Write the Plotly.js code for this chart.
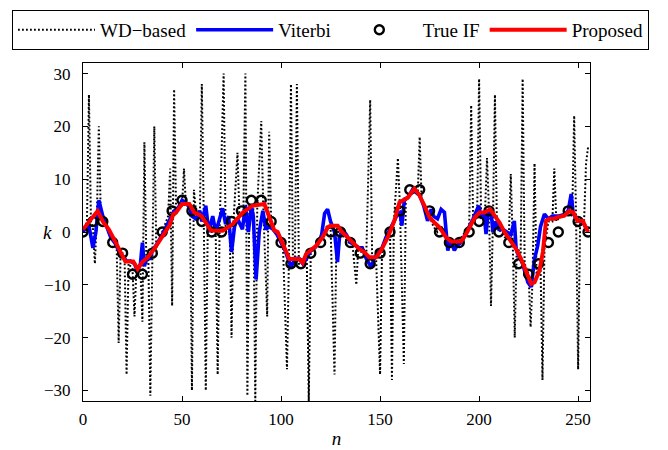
<!DOCTYPE html>
<html>
<head>
<meta charset="utf-8">
<script src="https://cdn.plot.ly/plotly-3.0.1.min.js"></script>
<style>html,body{margin:0;padding:0;background:#fff;}#chart{width:668px;height:450px;}</style>
</head>
<body>
<div id="chart"></div>
<script>
// WD-based estimate (vertices)
const wdN = [0,1,2,3,4,5,6,7,8,9,10,12,14,16,17,18,19,20,21,22,23,25,26,27,29,30,31,32,33,34,35,36,37,39,40,42,43,44,45,46,47,49,50,51,52,54,55,56,57,59,60,61,62,63,65,67,68,69,71,72,74,75,76,78,79,81,82,83,84,86,87,88,90,91,93,94,95,97,99,101,103,104,105,106,107,108,109,111,113,114,115,117,119,121,123,125,127,128,130,132,134,136,138,139,141,143,145,146,148,150,151,153,155,156,157,159,160,162,163,165,167,169,170,171,173,175,177,179,181,183,185,187,189,191,193,195,196,197,199,200,201,203,204,205,206,207,208,209,211,213,215,216,217,218,219,221,222,223,225,226,227,228,229,231,232,233,235,237,238,239,241,243,245,247,248,249,250,251,253,254,255];
const wdK = [0,1,2,26,2,1,-6,3,20,3,2,1,-1,-2,-3,-21,-4,-4,-5,-27,-6,-7,-16,-7,-7,-17,17,-6,-5,-31,-4,20,-3,-1,0,2,3,12,-14,27,4,5,5,12,5,5,-30,8,4,3,28,2,-30,1,0,0,-27,1,30,1,2,-20,2,15,3,4,30,-31,5,5,-32,5,21,5,-16,19,2,0,-1,-3,-26,-5,28,-5,-5,28,-6,-6,-5,-32,-4,-3,-2,-1,1,1,-27,0,0,-1,-2,-2,-10,-3,-4,-5,25,-5,-5,-27,-3,-1,1,-28,2,14,5,-25,6,7,8,7,18,6,4,3,1,0,1,-1,-2,-2,-2,-1,0,1,24,2,3,29,3,4,14,4,-14,2,26,1,0,-1,-1,11,-2,-20,-3,-4,29,-6,-8,-18,-9,13,-8,-6,-28,-3,2,2,12,2,3,3,4,3,22,2,-26,2,2,13,16];

// Viterbi estimate
const vitN = [0,2,3,5,6.5,8,10,12,14,16,18,20,22,24,26,27.5,29,30,31,32,34,35,37,40,42,44,46,48,50,52,54,55,57,59,60,62,63.5,65.5,67,69,70.5,72,73.5,75,76.5,78,80.5,82,83.5,85,86,87.4,89,90.8,92.4,94,96,98,100,102,104,105,107,109,111,113,115,117,119,120.5,122,123.5,125,127,128.5,129.5,131,133,135,137,139.5,141,143,145.5,147,149,151,153,155,157,159,160,161,162.3,164,166.5,168,170,172,174,175.8,177,179,180.8,182.5,184.2,185.5,187.5,189,191,193,195,197,199.8,201,202.5,203.5,204.5,206,207,208.5,210,212,214,216,217.8,218.7,220,222,224.6,226.3,228,229.6,231,233,235,237,240,243,245,246.5,247.5,249,251,253,255];
const vitK = [0,1,1.2,-3,0,6,3,1,-1,-2,-3.5,-4.5,-5.5,-5.5,-6,-7.5,-6,-2,-6.5,-5,-5,-3.5,-2.5,-0.5,1,2.5,4,4.5,6,5.5,4.5,3,2.5,4,2,5,0,3,0,2.5,4.5,1.5,3,-3.8,1,2.5,0.5,5,0,5,3,-9,0,4,0.5,1,0.5,-0.5,-2,-3.5,-5.5,-6.7,-5,-5,-6,-5,-3.5,-3,-2,-0.5,3.5,4.3,2,0,-5.7,-1,0.5,-0.5,-2,-2.5,-3,-3,-5,-6.7,-5,-4,-3,-1,0.5,2,3.5,3.7,1.2,6.2,6.5,8.1,7.5,7,5,2.1,4.3,3,2.5,4.3,3.7,-3.5,-1.5,-3.5,-2.5,-2,-0.5,1,2.5,5,3,3.5,-0.4,3.5,4,0,2,0.5,0.5,0,-0.5,2.1,-3.2,-4.5,-6,-9.5,-10.4,-5.1,-2.6,1,3.4,2.5,3,3,3.3,4,7.2,3.5,2.5,2,1.5,0];

// True IF (every 5 samples)
const trueN = [0,5,10,15,20,25,30,35,40,45,50,55,60,65,70,75,80,85,90,95,100,105,110,115,120,125,130,135,140,145,150,155,160,165,170,175,180,185,190,195,200,205,210,215,220,225,230,235,240,245,250,255];
const trueK = [0,2,2,-2,-4,-8,-8,-4,0,4,6,4,2,0,0,2,4,6,6,2,-2,-6,-6,-4,-2,0,0,-2,-4,-6,-4,0,4,8,8,4,0,-2,-2,0,2,4,0,-2,-6,-8,-6,-2,0,4,2,0];

// Proposed estimate
const propN = [0,4,7.4,10,13,16,18,21.4,25.4,27.6,30,32.7,36,40,43.6,45.6,47,50,53.7,56.2,59.6,62,64.6,70.5,75.6,80.7,85.7,91.6,94,96.6,98.3,100.8,103.4,104.2,109.3,111,112.6,115,117.7,121,123.6,125,128.6,130.3,134.5,137,139.5,142,144.6,148,150.5,153.9,157.2,159.8,162.3,164,167.3,169.5,172.4,174.9,177.4,180,183.3,185.9,190.9,193.4,196.5,198,200.2,202.7,205.6,207.7,210.3,212.8,215.3,218.7,221.2,223.7,226.3,228,230.5,232.2,233.8,235.5,238,239.7,243,245.6,247.6,249.8,252.4,255];
const propK = [0.5,2.5,4,2,0.5,-1.6,-3.2,-5.6,-5.6,-7,-5.7,-4.8,-3.2,-0.7,1.2,3.4,3.7,5.3,5.3,3.7,3.1,1.8,0.3,0.25,1.5,3.7,5,5.3,3.1,0.3,0,-2.3,-4.5,-5.1,-5.1,-5.8,-4.2,-3.5,-2.6,-1,0.9,1.2,1.2,0.2,-1.3,-2.3,-3.2,-3.8,-4.8,-4.8,-3.5,-1,2.1,5.6,6.2,6.5,8.2,7.2,5,2.8,1.8,0.9,-1,-1.8,-1.8,-0.4,1.8,2.8,3.7,3.7,4.3,3.1,1.8,0,-1.3,-3.2,-5.1,-7.3,-9.8,-9.5,-7.3,-3.8,2.1,2.5,2.5,2.8,3.1,4,3.7,2.1,2.1,0];

const xTicks = [0,50,100,150,200,250];
const yTicks = [-30,-20,-10,0,10,20,30];
const legendNames = ['WD\u2212based','Viterbi','True IF','Proposed'];

const serif = 'Liberation Serif, Times New Roman, serif';

const traces = [
  {x: wdN, y: wdK, name: legendNames[0], type: 'scatter', mode: 'lines',
   line: {color: '#000', width: 2, dash: '1.8px,2.2px'}},
  {x: vitN, y: vitK, name: legendNames[1], type: 'scatter', mode: 'lines',
   line: {color: '#0000ff', width: 3.6}},
  {x: trueN, y: trueK, name: legendNames[2], type: 'scatter', mode: 'markers',
   marker: {symbol: 'circle-open', size: 9, color: '#000', line: {width: 2.4, color: '#000'}}},
  {x: propN, y: propK, name: legendNames[3], type: 'scatter', mode: 'lines',
   line: {color: '#ff0000', width: 4}}
];

const axisCommon = {
  showline: true, linecolor: '#000', linewidth: 1, mirror: 'allticks',
  ticks: 'inside', ticklen: 5, tickcolor: '#000', tickwidth: 1,
  showgrid: false, zeroline: false,
  tickfont: {family: serif, size: 17, color: '#000'}
};

// plot area: 83..590 px horizontally; paper spans 83..658 so the legend may be wide
const paperW = 575, plotW = 507;

const layout = {
  width: 668, height: 450,
  margin: {l: 83, r: 10, t: 63, b: 49},
  paper_bgcolor: '#fff', plot_bgcolor: '#fff',
  showlegend: true,
  legend: {
    orientation: 'h', x: (12 - 83) / paperW, xanchor: 'left', y: 1.157, yanchor: 'top',
    bordercolor: '#000', borderwidth: 1, bgcolor: '#fff',
    font: {family: serif, size: 19, color: '#000'},
    itemwidth: 77, tracegroupgap: 0
  },
  xaxis: Object.assign({}, axisCommon, {
    domain: [0, plotW / paperW],
    range: [0, 256], tickvals: xTicks, ticktext: xTicks.map(String),
    ticklabelstandoff: 3,
    title: {text: '<i>n</i>', font: {family: serif, size: 19, color: '#000'}, standoff: 3}
  }),
  yaxis: Object.assign({}, axisCommon, {
    range: [-32, 32], tickvals: yTicks, ticktext: yTicks.map(v => v < 0 ? '\u2212' + Math.abs(v) : String(v)),
    ticklabelstandoff: 8
  }),
  annotations: [{
    text: '<i>k</i>', xref: 'paper', yref: 'paper', x: (47 - 83) / paperW, y: 0.5,
    xanchor: 'center', yanchor: 'middle', showarrow: false,
    font: {family: serif, size: 19, color: '#000'}
  }]
};

Plotly.newPlot('chart', traces, layout, {displayModeBar: false, staticPlot: true});
</script>
</body>
</html>
